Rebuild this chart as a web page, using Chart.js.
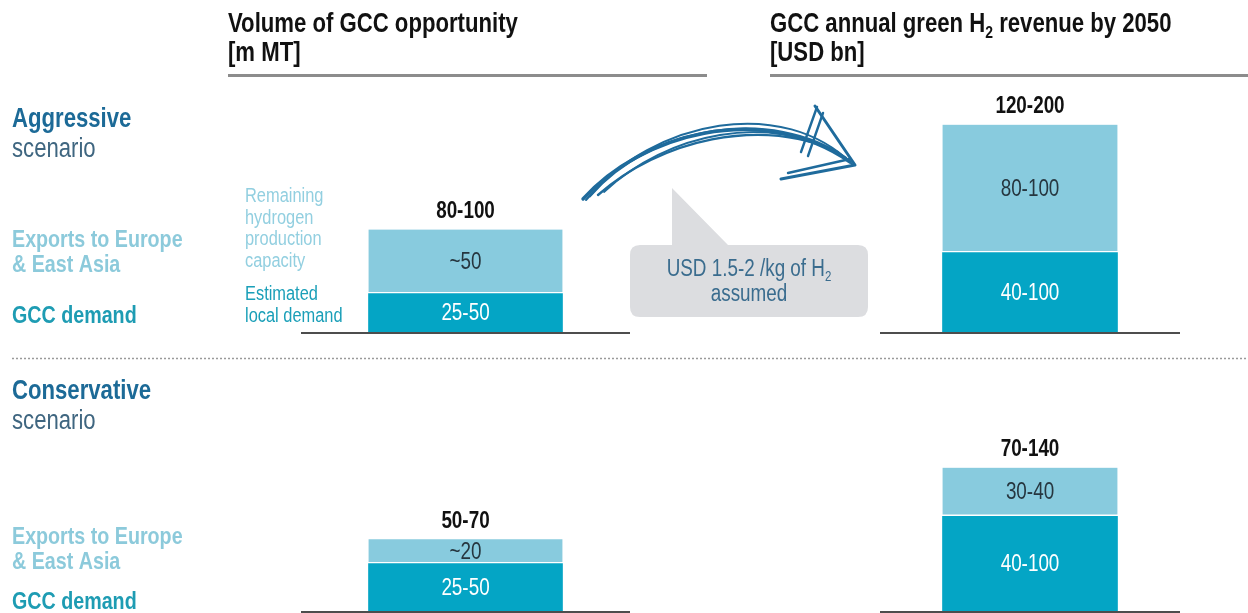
<!DOCTYPE html>
<html>
<head>
<meta charset="utf-8">
<script src="https://cdn.jsdelivr.net/npm/chart.js@4.4.1/dist/chart.umd.min.js"></script>
<style>
  html, body { margin: 0; padding: 0; background: #fff; }
  #page { position: relative; width: 1248px; height: 613px; overflow: hidden; }
  #decor { position: absolute; left: 0; top: 0; z-index: 0; }
  .panel { position: absolute; z-index: 1; }
</style>
</head>
<body>
<div id="page">
  <canvas id="decor" width="1248" height="613"></canvas>
  <div class="panel" style="left:301px; top:76px; width:329px; height:258px;"><canvas id="volAggressive"></canvas></div>
  <div class="panel" style="left:880px; top:76px; width:300px; height:258px;"><canvas id="revAggressive"></canvas></div>
  <div class="panel" style="left:301px; top:355px; width:329px; height:258px;"><canvas id="volConservative"></canvas></div>
  <div class="panel" style="left:880px; top:355px; width:300px; height:258px;"><canvas id="revConservative"></canvas></div>
</div>
<script>
// scenarios: aggressive, conservative
const scenarios = ['Aggressive', 'Conservative'];

// volume of GCC opportunity [m MT]
const volumeLocal = [30, 37];
const volumeExport = [50, 19];
const volumeLocalText = ['25-50', '25-50'];
const volumeExportText = ['~50', '~20'];
const volumeTotalText = ['80-100', '50-70'];

// annual green H2 revenue by 2050 [USD bn]
const revenueLocal = [62, 74];
const revenueExport = [100, 38];
const revenueLocalText = ['40-100', '40-100'];
const revenueExportText = ['80-100', '30-40'];
const revenueTotalText = ['120-200', '70-140'];

const DARK = '#04a5c5';
const LIGHT = '#88cbde';
const FONT = '"Liberation Sans", Arial, sans-serif';
const SQUEEZE = 0.82; // narrow face

// draws condensed text (Arial Narrow look)
function narrow (ctx, str, x, y, size, weight, color, align, baseline) {
  ctx.save();
  ctx.font = weight + ' ' + size + 'px ' + FONT;
  ctx.fillStyle = color;
  ctx.textBaseline = baseline || 'alphabetic';
  ctx.translate(x, y);
  ctx.scale(SQUEEZE, 1);
  const w = ctx.measureText(str).width;
  let dx = 0;
  if (align === 'center') dx = -w / 2;
  if (align === 'right') dx = -w;
  ctx.textAlign = 'left';
  ctx.fillText(str, dx, 0);
  ctx.restore();
  return w * SQUEEZE;
}

// text runs with an H2 subscript: parts like ['GCC annual green H', {sub: '2'}, ' revenue by 2050']
function narrowRuns (ctx, parts, x, y, size, weight, color, align) {
  ctx.save();
  let total = 0;
  const subSize = Math.round(size * 0.62);
  parts.forEach(p => {
    if (typeof p === 'string') { ctx.font = weight + ' ' + size + 'px ' + FONT; total += ctx.measureText(p).width * SQUEEZE; }
    else { ctx.font = weight + ' ' + subSize + 'px ' + FONT; total += ctx.measureText(p.sub).width * SQUEEZE; }
  });
  ctx.restore();
  let cx = x;
  if (align === 'center') cx = x - total / 2;
  parts.forEach(p => {
    if (typeof p === 'string') cx += narrow(ctx, p, cx, y, size, weight, color, 'left');
    else cx += narrow(ctx, p.sub, cx, y + size * 0.22, subSize, weight, color, 'left');
  });
}

// labels inside and above the stacked bars, plus the baseline
const barLabels = {
  id: 'barLabels',
  afterDatasetsDraw (chart, args, opts) {
    const ctx = chart.ctx;
    const area = chart.chartArea;
    ctx.save();
    ctx.strokeStyle = '#4d4d4d';
    ctx.lineWidth = 2;
    ctx.beginPath();
    ctx.moveTo(area.left, area.bottom + 1);
    ctx.lineTo(area.right, area.bottom + 1);
    ctx.stroke();
    ctx.restore();

    const local = chart.getDatasetMeta(0).data[0];
    const exp = chart.getDatasetMeta(1).data[0];
    narrow(ctx, opts.localText, local.x, (local.y + local.base) / 2 + 1, 23, 'normal', '#ffffff', 'center', 'middle');
    narrow(ctx, opts.exportText, exp.x, (exp.y + exp.base) / 2 + 1, 23, 'normal', '#26363f', 'center', 'middle');
    narrow(ctx, opts.totalText, exp.x, exp.y - 18, 23, 'bold', '#111111', 'center', 'middle');
  }
};

function makePanel (id, i, local, exp, localText, exportText, totalText, barWidth) {
  new Chart(document.getElementById(id), {
    type: 'bar',
    data: {
      labels: [scenarios[i]],
      datasets: [
        { label: 'GCC demand', data: [local[i]], backgroundColor: DARK, borderWidth: 0, barThickness: barWidth },
        { label: 'Exports to Europe & East Asia', data: [exp[i]], backgroundColor: LIGHT,
          borderColor: '#ffffff', borderWidth: { bottom: 2, top: 0, left: 0, right: 0 }, borderSkipped: false, barThickness: barWidth }
      ]
    },
    options: {
      responsive: true,
      maintainAspectRatio: false,
      animation: false,
      layout: { padding: { bottom: 2 } },
      scales: {
        x: { stacked: true, display: false },
        y: { stacked: true, display: false, min: 0, max: 200 }
      },
      plugins: {
        legend: { display: false },
        tooltip: { enabled: false },
        barLabels: { localText: localText[i], exportText: exportText[i], totalText: totalText[i] }
      }
    },
    plugins: [barLabels]
  });
}

makePanel('volAggressive', 0, volumeLocal, volumeExport, volumeLocalText, volumeExportText, volumeTotalText, 194);
makePanel('volConservative', 1, volumeLocal, volumeExport, volumeLocalText, volumeExportText, volumeTotalText, 194);
makePanel('revAggressive', 0, revenueLocal, revenueExport, revenueLocalText, revenueExportText, revenueTotalText, 175);
makePanel('revConservative', 1, revenueLocal, revenueExport, revenueLocalText, revenueExportText, revenueTotalText, 175);

// headings, row labels, separator, arrow and price callout
const d = document.getElementById('decor').getContext('2d');

narrow(d, 'Volume of GCC opportunity', 228, 32, 27, 'bold', '#111', 'left');
narrow(d, '[m MT]', 228, 61, 27, 'bold', '#111', 'left');
narrowRuns(d, ['GCC annual green H', { sub: '2' }, ' revenue by 2050'], 770, 32, 27, 'bold', '#111', 'left');
narrow(d, '[USD bn]', 770, 61, 27, 'bold', '#111', 'left');

d.fillStyle = '#8c8c8c';
d.fillRect(228, 74, 479, 3);
d.fillRect(770, 74, 478, 3);

function rowLabels (title, y0, exportY, demandY) {
  narrow(d, title, 12, y0, 27, 'bold', '#1c6a97', 'left');
  narrow(d, 'scenario', 12, y0 + 30, 27, 'normal', '#3f6680', 'left');
  narrow(d, 'Exports to Europe', 12, exportY, 24, 'bold', '#8ccadb', 'left');
  narrow(d, '& East Asia', 12, exportY + 25, 24, 'bold', '#8ccadb', 'left');
  narrow(d, 'GCC demand', 12, demandY, 24, 'bold', '#1e9cb3', 'left');
}
rowLabels('Aggressive', 127, 247, 323);
rowLabels('Conservative', 399, 544, 609);

['Remaining', 'hydrogen', 'production', 'capacity'].forEach((s, k) => {
  narrow(d, s, 245, 202 + k * 21.5, 20, 'normal', '#92cfe0', 'left');
});
narrow(d, 'Estimated', 245, 300, 20, 'normal', '#1a9fb8', 'left');
narrow(d, 'local demand', 245, 322, 20, 'normal', '#1a9fb8', 'left');

// dotted separator between the scenarios
d.save();
d.strokeStyle = '#9a9a9a';
d.lineWidth = 1.5;
d.setLineDash([2, 2]);
d.beginPath();
d.moveTo(12, 358.5);
d.lineTo(1246, 358.5);
d.stroke();
d.restore();

// price callout with pointer
d.save();
d.fillStyle = '#dcdde0';
d.beginPath();
d.moveTo(640, 245);
d.lineTo(672, 245);
d.lineTo(672, 188);
d.lineTo(728, 245);
d.lineTo(858, 245);
d.quadraticCurveTo(868, 245, 868, 255);
d.lineTo(868, 307);
d.quadraticCurveTo(868, 317, 858, 317);
d.lineTo(640, 317);
d.quadraticCurveTo(630, 317, 630, 307);
d.lineTo(630, 255);
d.quadraticCurveTo(630, 245, 640, 245);
d.closePath();
d.fill();
d.restore();
narrowRuns(d, ['USD 1.5-2 /kg of H', { sub: '2' }], 749, 276, 23, 'normal', '#3a6c8e', 'center');
narrow(d, 'assumed', 749, 301, 23, 'normal', '#3a6c8e', 'center');

// hand-drawn arrow
d.save();
d.strokeStyle = '#1f6b9c';
d.lineCap = 'round';
d.lineJoin = 'round';
const strokes = [
  [583, 199, 640, 135, 760, 100, 850, 162, 3.4],
  [590, 196, 650, 126, 772, 106, 846, 158, 2.6],
  [598, 195, 660, 140, 760, 116, 838, 152, 2.4],
  [586, 200, 655, 118, 784, 96, 852, 164, 2.0],
  [604, 192, 668, 132, 770, 112, 842, 156, 1.8]
];
strokes.forEach(s => {
  d.lineWidth = s[8];
  d.beginPath();
  d.moveTo(s[0], s[1]);
  d.bezierCurveTo(s[2], s[3], s[4], s[5], s[6], s[7]);
  d.stroke();
});
d.lineWidth = 3;
d.beginPath();
d.moveTo(815, 106);
d.lineTo(855, 165);
d.lineTo(781, 179);
d.stroke();
d.lineWidth = 2.4;
d.beginPath();
d.moveTo(817, 107);
d.lineTo(801, 152);
d.moveTo(823, 113);
d.lineTo(808, 156);
d.moveTo(788, 173);
d.lineTo(850, 159);
d.stroke();
d.restore();
</script>
</body>
</html>
